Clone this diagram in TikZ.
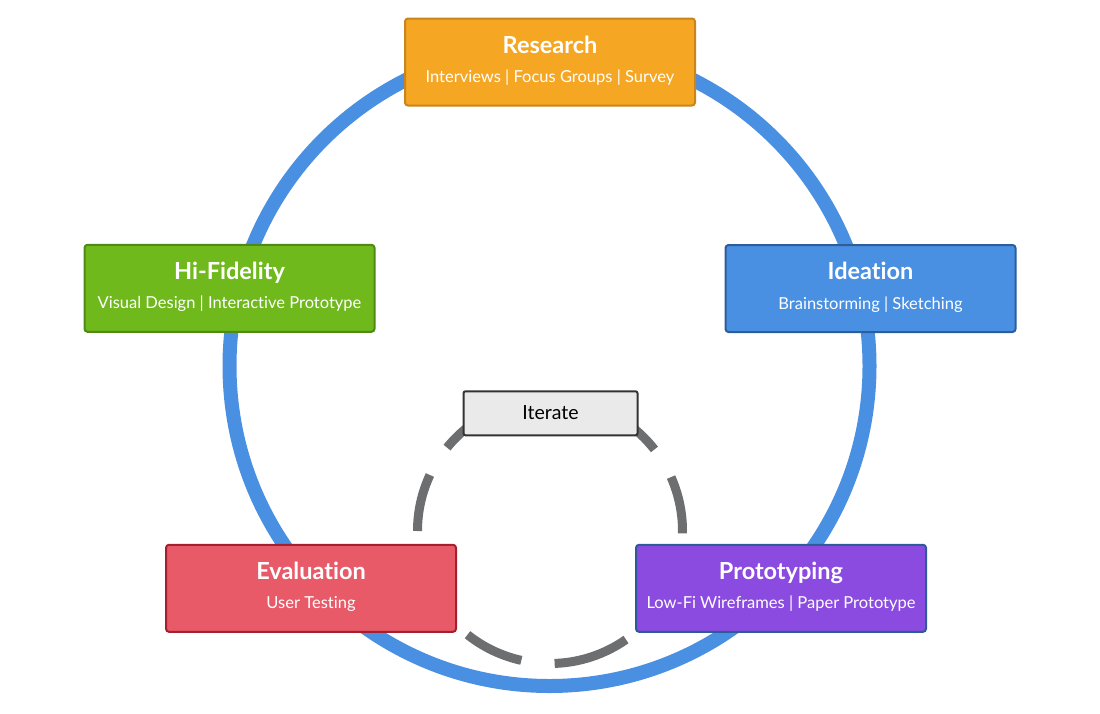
\documentclass[tikz,border=0pt]{standalone}
\usepackage{fontspec}
\setmainfont[Ligatures=NoCommon]{Lato}
\definecolor{ringblue}{HTML}{4A90E2}
\definecolor{ringgray}{HTML}{6D6E70}
\definecolor{resfill}{HTML}{F5A623}
\definecolor{resdraw}{HTML}{C98519}
\definecolor{hififill}{HTML}{6FB91C}
\definecolor{hifidraw}{HTML}{4E8A14}
\definecolor{ideafill}{HTML}{4A90E2}
\definecolor{ideadraw}{HTML}{2C5E9E}
\definecolor{evalfill}{HTML}{E95A69}
\definecolor{evaldraw}{HTML}{A5202F}
\definecolor{protofill}{HTML}{8B4AE0}
\definecolor{protodraw}{HTML}{2E5A9A}
\definecolor{iterfill}{HTML}{EAEAEA}
\definecolor{iterdraw}{HTML}{333333}
\tikzset{
  stagebox/.style={rectangle, rounded corners=3pt, line width=2pt, minimum width=290pt, minimum height=87pt, inner sep=0pt},
  stagetitle/.style={anchor=base, text=white, font=\fontsize{23.5}{28}\selectfont\bfseries, inner sep=0pt},
  stagesub/.style={anchor=base, text=white, font=\fontsize{16.5}{20}\selectfont, inner sep=0pt},
  iterbox/.style={rectangle, rounded corners=2pt, line width=2pt, draw=iterdraw, fill=iterfill, minimum width=174pt, minimum height=44pt, inner sep=0pt},
  dashring/.style={draw=ringgray, line width=9pt},
}
\begin{document}
\begin{tikzpicture}[x=1pt,y=1pt]
\fill[white] (0,0) rectangle (1100,-713);
\useasboundingbox (0,0) rectangle (1100,-713);
% outer ring
\coordinate (c1) at (549.5,-366);
\draw[ringblue, line width=14pt] (c1) circle[radius=320pt];
% inner dashed ring
\coordinate (c2) at (550,-531);
\foreach \a/\b in {-1/24, 38/64, 77/103, 116/141, 155/180, 193/218, 231.5/257.5, 272/305, 318/345}{
  \draw[dashring] ([shift={(\a:132.5pt)}]c2) arc[start angle=\a, end angle=\b, radius=132.5pt];
}
% boxes
\node[stagebox, fill=resfill, draw=resdraw] (research) at (550,-62) {};
\node[stagebox, fill=hififill, draw=hifidraw] (hifi) at (229.5,-288.3) {};
\node[stagebox, fill=ideafill, draw=ideadraw] (ideation) at (870.5,-288.5) {};
\node[stagebox, fill=evalfill, draw=evaldraw] (evaluation) at (311,-588.3) {};
\node[stagebox, fill=protofill, draw=protodraw] (prototyping) at (781,-588.3) {};
\node[iterbox] (iterate) at (550.5,-413.3) {};
\node[anchor=base, inner sep=0pt, font=\fontsize{19.5}{22}\selectfont] (iteratelabel) at ([yshift=-29.5pt]iterate.north) {Iterate};
% texts
\foreach \n/\t/\s in {research/Research/{Interviews | Focus Groups | Survey},
                      hifi/Hi-Fidelity/{Visual Design | Interactive Prototype},
                      ideation/Ideation/{Brainstorming | Sketching},
                      evaluation/Evaluation/{User Testing},
                      prototyping/Prototyping/{Low-Fi Wireframes | Paper Prototype}}{
  \node[stagetitle] (\n-title) at ([yshift=-35.5pt]\n.north) {\t};
  \node[stagesub] (\n-sub) at ([yshift=-65pt]\n.north) {\s};
}
\end{tikzpicture}
\end{document}
